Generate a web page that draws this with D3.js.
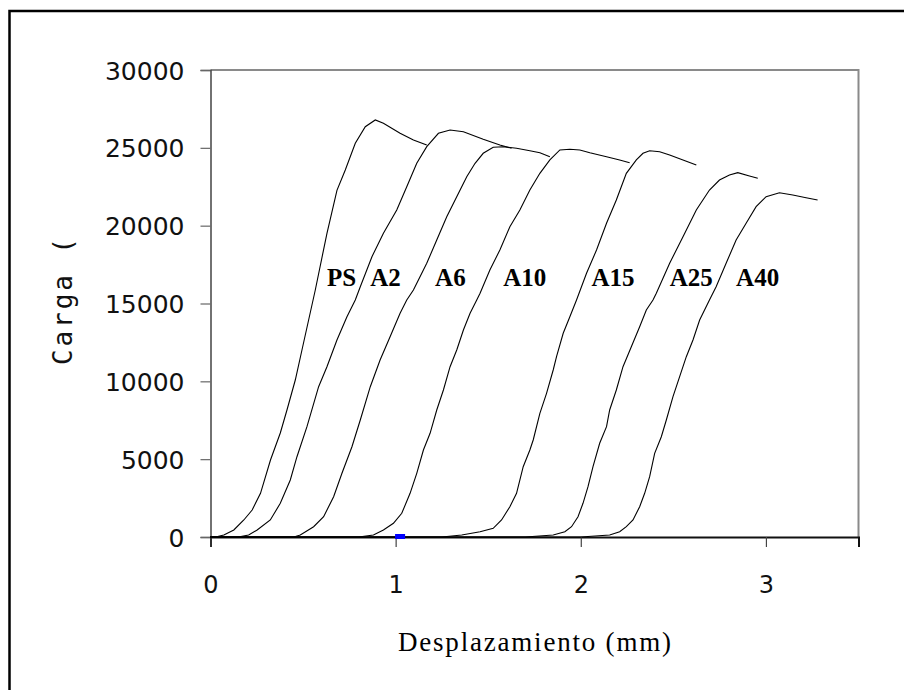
<!DOCTYPE html>
<html>
<head>
<meta charset="utf-8">
<script src="https://cdn.jsdelivr.net/npm/d3@7"></script>
<style>
  html, body { margin: 0; padding: 0; background: #fff; }
  svg { display: block; }
</style>
</head>
<body>
<svg id="chart" width="904" height="690"></svg>
<script>
// ---------- DATA ----------
const seriesNames = ["PS", "A2", "A6", "A10", "A15", "A25", "A40"];

const PS = [[0,0],[0.027,0],[0.072,128],[0.126,450],[0.180,1092],[0.225,1734],[0.270,2807],[0.324,4946],[0.377,6681],[0.413,8158],[0.458,10086],[0.494,12013],[0.530,13940],[0.566,15867],[0.629,19510],[0.683,22270],[0.728,23576],[0.782,25292],[0.836,26358],[0.890,26790],[0.934,26576],[1.024,25934],[1.096,25504],[1.168,25182]];
const A2 = [[0,0],[0.15,0],[0.206,128],[0.252,450],[0.323,1092],[0.377,2165],[0.431,3662],[0.467,5158],[0.521,7086],[0.584,9655],[0.629,10940],[0.683,12655],[0.737,14152],[0.782,15225],[0.809,16080],[0.872,18006],[0.934,19510],[1.006,21006],[1.060,22503],[1.114,24006],[1.168,25073],[1.231,25934],[1.294,26146],[1.366,26037],[1.473,25549],[1.563,25182],[1.626,24970]];
const A6 = [[0,0],[0.45,0],[0.485,128],[0.557,662],[0.611,1304],[0.665,2589],[0.710,4092],[0.764,5801],[0.809,7516],[0.863,9655],[0.916,11370],[0.970,12867],[1.024,14370],[1.060,15225],[1.096,15867],[1.168,17583],[1.222,19079],[1.276,20576],[1.330,21861],[1.384,23146],[1.429,24006],[1.473,24649],[1.527,25034],[1.581,25073],[1.653,24970],[1.725,24816],[1.779,24688],[1.833,24431]];
const A10 = [[0,0],[0.80,0],[0.880,128],[0.934,450],[0.988,880],[1.033,1523],[1.078,2807],[1.114,4092],[1.150,5589],[1.186,6662],[1.222,8158],[1.258,9443],[1.294,10940],[1.330,12013],[1.366,13298],[1.402,14370],[1.438,15225],[1.456,15655],[1.509,17152],[1.563,18437],[1.617,19934],[1.671,21006],[1.725,22291],[1.779,23364],[1.833,24220],[1.887,24863],[1.941,24906],[1.995,24863],[2.049,24688],[2.139,24431],[2.210,24220],[2.264,24046]];
const A15 = [[0,0],[1.25,0],[1.357,128],[1.456,340],[1.527,559],[1.572,1092],[1.617,1946],[1.653,2807],[1.689,4516],[1.725,5589],[1.743,6231],[1.779,7946],[1.815,9231],[1.851,10728],[1.869,11583],[1.905,13086],[1.941,14152],[1.977,15225],[2.031,16940],[2.085,18437],[2.139,20152],[2.192,21649],[2.246,23364],[2.300,24220],[2.336,24649],[2.372,24816],[2.426,24752],[2.480,24540],[2.552,24220],[2.624,23897]];
const A25 = [[0,0],[1.70,0],[1.851,128],[1.914,340],[1.950,662],[1.985,1304],[2.012,2165],[2.039,3231],[2.066,4516],[2.102,6019],[2.139,7086],[2.156,8158],[2.192,9443],[2.228,10940],[2.273,12225],[2.318,13510],[2.354,14583],[2.390,15225],[2.408,15655],[2.480,17583],[2.552,19292],[2.624,21006],[2.695,22291],[2.749,22933],[2.803,23255],[2.848,23403],[2.911,23191],[2.956,23043]];
const A40 = [[0,0],[2.00,0],[2.156,128],[2.210,340],[2.246,662],[2.282,1092],[2.318,1946],[2.345,2807],[2.372,3874],[2.399,5377],[2.435,6443],[2.462,7516],[2.498,9013],[2.534,10298],[2.570,11583],[2.606,12655],[2.642,13940],[2.695,15225],[2.731,16080],[2.785,17583],[2.839,19079],[2.893,20152],[2.947,21219],[3.001,21861],[3.073,22118],[3.145,21970],[3.217,21797],[3.279,21649]];
const seriesValues = [PS, A2, A6, A10, A15, A25, A40];

// curve labels: text and anchor (data units)
const labelX = [0.629, 0.863, 1.213, 1.581, 2.058, 2.480, 2.839];
const labelY = [16150, 16150, 16150, 16150, 16150, 16150, 16150];

// small blue marker on the x axis
const markerX = [1.024];
const markerY = [0];

const xTicks = [0, 1, 2, 3];
const yTicks = [0, 5000, 10000, 15000, 20000, 25000, 30000];
const xTitle = "Desplazamiento (mm)";
const yTitle = "Carga (";

// ---------- LAYOUT ----------
(function draw() {
const svg = d3.select("#chart");
const pLeft = 210.5, pRight = 858.5, pTop = 70, pBottom = 537;

const x = d3.scaleLinear().domain([0, 3.5]).range([pLeft, pRight]);
const y = d3.scaleLinear().domain([0, 30000]).range([pBottom, pTop]);

// outer frame (extends beyond right/bottom edges)
svg.append("rect")
  .attr("x", 9.5).attr("y", 11)
  .attr("width", 1000).attr("height", 1000)
  .attr("fill", "none").attr("stroke", "#000").attr("stroke-width", 2.5);

// plot frame top & right (gray)
svg.append("path")
  .attr("d", `M${pLeft},${pTop}H${pRight}V${pBottom}`)
  .attr("fill", "none").attr("stroke", "#8a8a8a").attr("stroke-width", 2);

// y axis
const yAxis = d3.axisLeft(y).tickValues(yTicks).tickSize(10).tickPadding(16)
  .tickFormat(d3.format("d"));
const gy = svg.append("g").attr("transform", `translate(${pLeft},0)`).call(yAxis);
gy.select(".domain").attr("stroke", "#444").attr("stroke-width", 1.5);
gy.selectAll(".tick line").attr("stroke", "#666").attr("stroke-width", 1.2);
gy.selectAll(".tick text")
  .attr("font-family", "DejaVu Sans").attr("font-size", 25)
  .attr("fill", "#111").attr("x", -26).attr("dy", "0.36em");

// x axis
const xAxis = d3.axisBottom(x).tickValues(xTicks).tickSize(10).tickPadding(20)
  .tickFormat(d3.format("d"));
const gx = svg.append("g").attr("transform", `translate(0,${pBottom})`).call(xAxis);
gx.select(".domain").attr("stroke", "#111").attr("stroke-width", 2);
gx.selectAll(".tick line").attr("stroke", "#444").attr("stroke-width", 1.2);
gx.selectAll(".tick text")
  .attr("font-family", "DejaVu Sans").attr("font-size", 24)
  .attr("fill", "#111").attr("y", 0).attr("dy", 0)
  .attr("transform", "translate(0,56)");

// curves
const line = d3.line().x(d => x(d[0])).y(d => y(d[1]));
svg.append("g").selectAll("path")
  .data(seriesValues)
  .join("path")
  .attr("d", line)
  .attr("fill", "none")
  .attr("stroke", "#000")
  .attr("stroke-width", 1.1);

// curve labels
svg.append("g").selectAll("text")
  .data(seriesNames)
  .join("text")
  .attr("x", (d, i) => x(labelX[i]))
  .attr("y", (d, i) => y(labelY[i]))
  .attr("font-family", "Liberation Serif")
  .attr("font-weight", "bold")
  .attr("font-size", 25)
  .attr("fill", "#000")
  .text(d => d);

// blue marker
svg.append("g").selectAll("rect")
  .data(markerX)
  .join("rect")
  .attr("x", d => x(d) - 5)
  .attr("y", (d, i) => y(markerY[i]) - 3)
  .attr("width", 10).attr("height", 5)
  .attr("fill", "#0000ff");

// axis titles
svg.append("text")
  .attr("x", 398).attr("y", 651)
  .attr("font-family", "Liberation Serif")
  .attr("font-size", 27)
  .attr("fill", "#000")
  .attr("textLength", 273).attr("lengthAdjust", "spacing")
  .text(xTitle);

svg.append("text")
  .attr("transform", "translate(72,365) rotate(-90)")
  .attr("x", 0).attr("y", 0)
  .attr("font-family", "DejaVu Sans Mono")
  .attr("font-size", 26)
  .attr("fill", "#111")
  .attr("textLength", 127).attr("lengthAdjust", "spacing")
  .text(yTitle);
})();
</script>
</body>
</html>
